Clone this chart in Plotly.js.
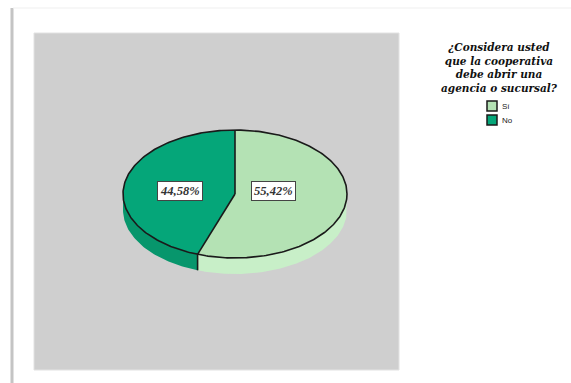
<!DOCTYPE html>
<html>
<head>
<meta charset="utf-8">
<script src="https://cdn.plot.ly/plotly-3.0.1.min.js"></script>
<style>html,body{margin:0;padding:0;background:#fff;}#chart{width:571px;height:383px;}</style>
</head>
<body>
<div id="chart"></div>
<script>
// ---- data ----
const labels = ['Sí', 'No'];
const values = [55.42, 44.58];
const legendTitle = '¿Considera usted<br>que la cooperativa<br>debe abrir una<br>agencia o sucursal?';

// ---- styles ----
const topColors = ['#b4e2b4', '#05a679'];
const sideColors = ['#c8efc8', '#07966c'];
const labelRadius = [0.35, 0.5];

// geometry of the tilted pie (pixel space of the axes)
const cx = 235, cy = 194, rx = 112, ry = 64, depth = 16;
const rad = d => d * Math.PI / 180;
function pt(aDeg, dy) {
  return [cx + rx * Math.cos(rad(aDeg)), cy - ry * Math.sin(rad(aDeg)) + (dy || 0)];
}
function arc(a1, a2, dy) {
  const xs = [], ys = [];
  const n = Math.max(2, Math.ceil(Math.abs(a2 - a1)));
  for (let i = 0; i <= n; i++) {
    const a = a1 + (a2 - a1) * i / n;
    const p = pt(a, dy);
    xs.push(p[0]); ys.push(p[1]);
  }
  return [xs, ys];
}

const total = values.reduce((s, v) => s + v, 0);
const slices = [];
let start = 90;
values.forEach((v) => {
  const sweep = v / total * 360;
  slices.push({ a1: start, a2: start - sweep, mid: start - sweep / 2 });
  start -= sweep;
});

const sideTraces = [], topTraces = [];
slices.forEach((s, i) => {
  for (let k = -2; k <= 1; k++) {
    const lo = Math.max(s.a2, -180 + 360 * k), hi = Math.min(s.a1, 360 * k);
    if (hi > lo) {
      const t = arc(lo, hi, 0), b = arc(hi, lo, depth);
      sideTraces.push({
        type: 'scatter', mode: 'lines', fill: 'toself',
        x: t[0].concat(b[0]), y: t[1].concat(b[1]),
        fillcolor: sideColors[i], line: { width: 0, color: sideColors[i] },
        hoverinfo: 'skip', showlegend: false
      });
    }
  }
  const a = arc(s.a1, s.a2, 0);
  topTraces.push({
    type: 'scatter', mode: 'lines', fill: 'toself', name: labels[i],
    x: [cx].concat(a[0], [cx]), y: [cy].concat(a[1], [cy]),
    fillcolor: topColors[i], line: { width: 0 },
    text: labels[i] + ': ' + values[i].toFixed(2).replace('.', ',') + '%', hoverinfo: 'text',
    showlegend: false
  });
});

// outlines
const ox = [], oy = [];
const full = arc(0, 360, 0);
ox.push(...full[0], null); oy.push(...full[1], null);
slices.forEach(s => {
  const p = pt(s.a1, 0);
  ox.push(cx, p[0], null); oy.push(cy, p[1], null);
  if (Math.sin(rad(s.a1)) < 0) { ox.push(p[0], p[0], null); oy.push(p[1], p[1] + depth, null); }
});
const outline = { type: 'scatter', mode: 'lines', x: ox, y: oy, line: { color: '#1a1a1a', width: 1.6 }, hoverinfo: 'skip', showlegend: false };

// pie labels
const annotations = slices.map((s, i) => ({
  x: cx + rx * labelRadius[i] * Math.cos(rad(s.mid)), y: cy - 3,
  xref: 'x', yref: 'y', showarrow: false,
  text: '<b><i>' + values[i].toFixed(2).replace('.', ',') + '%</i></b>',
  font: { family: 'Liberation Serif', size: 12.5, color: '#333' },
  bgcolor: '#ffffff', bordercolor: '#444', borderwidth: 1, borderpad: 2
}));
// legend title
annotations.push({
  x: 499, y: 39, xref: 'x', yref: 'y', yanchor: 'top', showarrow: false, align: 'center',
  text: '<b><i>' + legendTitle + '</i></b>',
  font: { family: 'DejaVu Serif', size: 10.5, color: '#111' }
});
// legend entries
const shapes = [
  { type: 'rect', xref: 'x', yref: 'y', x0: 34, x1: 399, y0: 33, y1: 370, fillcolor: '#cfcfcf', line: { width: 1, color: '#e2e2e2' }, layer: 'below' },
  { type: 'line', xref: 'x', yref: 'y', x0: 12, x1: 12, y0: 8, y1: 383, line: { color: '#c4c4c4', width: 3 }, layer: 'below' },
  { type: 'line', xref: 'x', yref: 'y', x0: 13, x1: 571, y0: 8, y1: 8, line: { color: '#efefef', width: 1 }, layer: 'below' }
];
labels.forEach((l, i) => {
  const yc = 106 + i * 14;
  shapes.push({ type: 'rect', xref: 'x', yref: 'y', x0: 487, x1: 497, y0: yc - 5, y1: yc + 5, fillcolor: topColors[i], line: { color: '#1a1a1a', width: 1.5 } });
  annotations.push({ x: 500, y: yc, xref: 'x', yref: 'y', xanchor: 'left', showarrow: false, text: l, font: { family: 'Liberation Sans', size: 8, color: '#222' } });
});

const layout = {
  width: 571, height: 383,
  margin: { l: 0, r: 0, t: 0, b: 0 },
  paper_bgcolor: '#ffffff', plot_bgcolor: 'rgba(0,0,0,0)',
  xaxis: { range: [0, 571], visible: false, fixedrange: true },
  yaxis: { range: [383, 0], visible: false, fixedrange: true },
  showlegend: false,
  shapes: shapes,
  annotations: annotations
};

Plotly.newPlot('chart', sideTraces.concat(topTraces, [outline]), layout, { displayModeBar: false, staticPlot: true });
</script>
</body>
</html>
